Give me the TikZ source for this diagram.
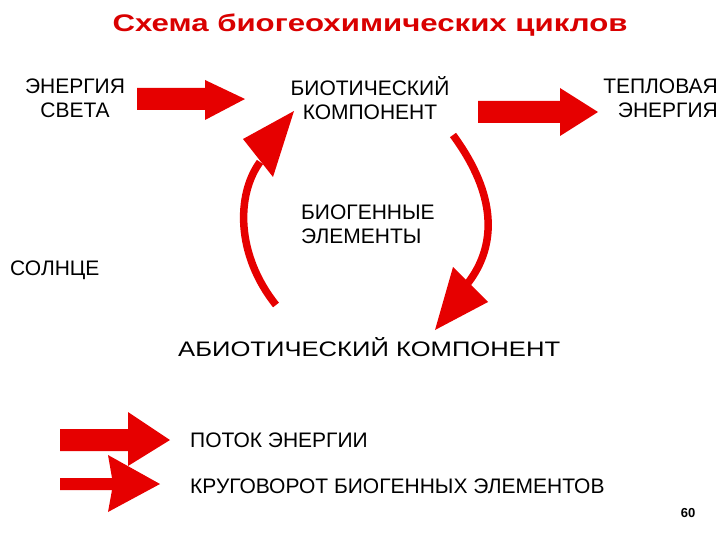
\documentclass[tikz,border=0pt]{standalone}
\usepackage{fontspec}
\setmainfont{Liberation Sans}
\begin{document}
\begin{tikzpicture}[x=1pt,y=-1pt,
 lbl/.style={font=\fontsize{21}{24}\selectfont, inner sep=0pt, align=center},
 red/.style={fill={rgb,255:red,230;green,0;blue,0}},
 redl/.style={draw={rgb,255:red,230;green,0;blue,0}, line width=7.5pt}]
\useasboundingbox (0,0) rectangle (720,540);
\node[xscale=1.3] (title) at (370,25) {\fontsize{24}{28}\selectfont\bfseries\color[rgb]{0.85,0,0}Схема биогеохимических циклов};
\node[lbl] (light) at (75,98) {ЭНЕРГИЯ\\СВЕТА};
\node[lbl] (bio) at (370,98) {БИОТИЧЕСКИЙ\\КОМПОНЕНТ};
\node[lbl,align=right,anchor=east] (heat) at (718,98) {ТЕПЛОВАЯ\\ЭНЕРГИЯ};
\node[lbl,align=left,anchor=west] (elem) at (301,224) {БИОГЕННЫЕ\\ЭЛЕМЕНТЫ};
\node[lbl,anchor=west] (sun) at (10,270) {СОЛНЦЕ};
\node[lbl,anchor=west,xscale=1.22] (abio) at (178,347) {АБИОТИЧЕСКИЙ КОМПОНЕНТ};
\node[lbl,anchor=west] (leg1) at (190,440) {ПОТОК ЭНЕРГИИ};
\node[lbl,anchor=west] (leg2) at (190,486) {КРУГОВОРОТ БИОГЕННЫХ ЭЛЕМЕНТОВ};
\node[font=\bfseries\fontsize{13}{15}\selectfont] (pg) at (688,513) {60};
% straight arrows
\fill[red] (137,88) -- (205,88) -- (205,80) -- (245,99) -- (205,120) -- (205,110) -- (137,110) -- cycle;
\fill[red] (478,101) -- (560,101) -- (560,88) -- (598,112) -- (560,136) -- (560,123) -- (478,123) -- cycle;
\fill[red] (60,429) -- (128,429) -- (128,412) -- (170,440) -- (128,466) -- (128,451) -- (60,451) -- cycle;
\fill[red] (60,478) -- (112,478) -- (108,455) -- (160,484) -- (108,512) -- (112,490) -- (60,490) -- cycle;
% curved arrows
\draw[redl] (276,305) .. controls (236,255) and (236,195) .. (260,162);
\fill[red] (294,111) -- (243,139) -- (273,177) -- cycle;
\draw[redl] (453,135) .. controls (497,195) and (497,245) .. (468,283);
\fill[red] (453,267) -- (488,302) -- (435,330) -- cycle;
\end{tikzpicture}
\end{document}
